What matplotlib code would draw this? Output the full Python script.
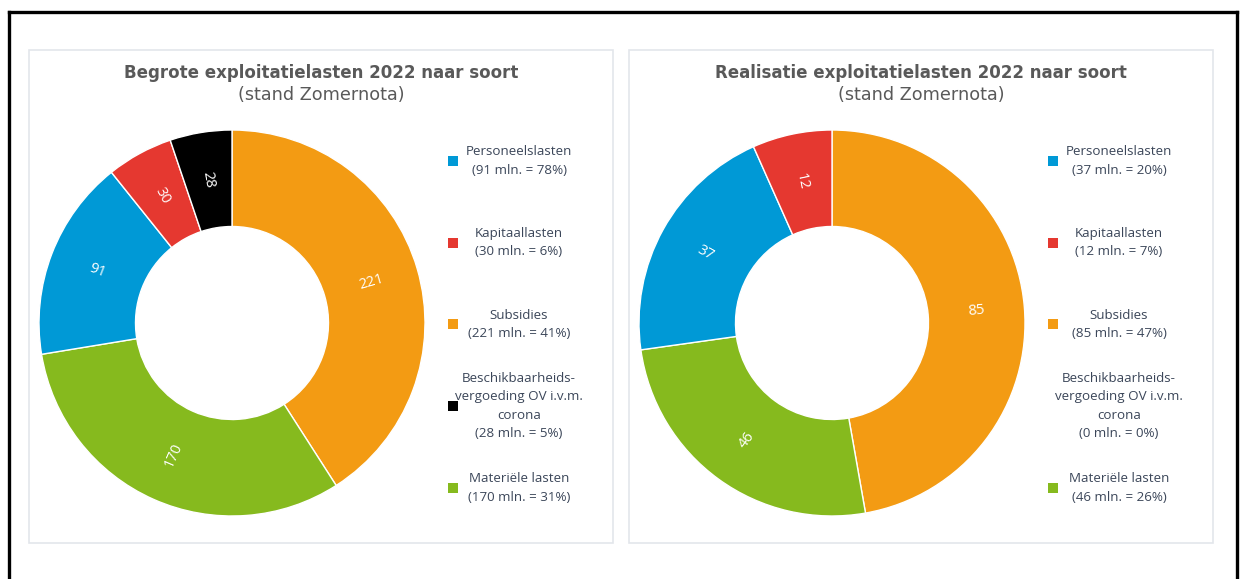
import matplotlib
matplotlib.use("Agg")
import matplotlib.pyplot as plt
from matplotlib.patches import Rectangle
import numpy as np

# ---------------- data ----------------
categories = ["Personeelslasten", "Kapitaallasten", "Subsidies",
              "Beschikbaarheids-\nvergoeding OV i.v.m.\ncorona", "Materiële lasten"]
colors = ["#0099d6", "#e53830", "#f39b13", "#000000", "#86ba1e"]

begroot_values = [91, 30, 221, 28, 170]
begroot_pct = [78, 6, 41, 5, 31]
realisatie_values = [37, 12, 85, 0, 46]
realisatie_pct = [20, 7, 47, 0, 26]

titles = ["Begrote exploitatielasten 2022 naar soort",
          "Realisatie exploitatielasten 2022 naar soort"]
subtitle = "(stand Zomernota)"

# drawing order of wedges (clockwise from top)
pie_order = [2, 4, 0, 1, 3]

W, H = 1240, 579
fig = plt.figure(figsize=(W / 100, H / 100), dpi=100)
fig.patch.set_facecolor("white")

def fx(x):
    return x / W

def fy(y):
    return 1 - y / H

# outer black frame (bottom cut off)
for xs, ys in [([8.5, 8.5], [11.5, 585]), ([8.5, 1236.5], [11.5, 11.5]), ([1236.5, 1236.5], [11.5, 585])]:
    fig.add_artist(plt.Line2D([fx(v) for v in xs], [fy(v) for v in ys], color="black",
                              lw=2.4, transform=fig.transFigure))

panels = [
    dict(x0=29, x1=613, cx=232, legx=453, textx=519,
         values=begroot_values, pct=begroot_pct, title=titles[0]),
    dict(x0=629, x1=1213, cx=832, legx=1053, textx=1119,
         values=realisatie_values, pct=realisatie_pct, title=titles[1]),
]

cy = 323
R = 193
text_color = "#3b4659"

for p in panels:
    fig.add_artist(Rectangle((fx(p["x0"]), fy(543)), fx(p["x1"] - p["x0"]), (543 - 50) / H,
                             transform=fig.transFigure, facecolor="white",
                             edgecolor="#e3e6eb", lw=1.2, zorder=0))
    tx = (p["x0"] + p["x1"]) / 2
    fig.text(fx(tx), fy(73), p["title"], ha="center", va="center",
             fontsize=12.0, fontweight="bold", color="#595959", family="DejaVu Sans")
    fig.text(fx(tx), fy(95), subtitle, ha="center", va="center",
             fontsize=12.7, color="#595959", family="DejaVu Sans")

    ax = fig.add_axes([fx(p["cx"] - R), (H - cy - R) / H, 2 * R / W, 2 * R / H])
    idx = [i for i in pie_order if p["values"][i] > 0]
    vals = [p["values"][i] for i in idx]
    cols = [colors[i] for i in idx]
    wedges, _ = ax.pie(vals, colors=cols, startangle=90, counterclock=False,
                       radius=1, wedgeprops=dict(width=0.5, edgecolor="white", linewidth=1))
    ax.set_xlim(-1, 1)
    ax.set_ylim(-1, 1)
    ax.set_aspect("equal")
    ax.axis("off")
    for w, v in zip(wedges, vals):
        mid = (w.theta1 + w.theta2) / 2
        rot = mid
        while rot > 90:
            rot -= 180
        while rot < -90:
            rot += 180
        r = 0.75
        ax.text(r * np.cos(np.radians(mid)), r * np.sin(np.radians(mid)), str(v),
                ha="center", va="center", rotation=rot, rotation_mode="anchor",
                color="white", fontsize=10.5, family="Open Sans")

    # legend
    for k in range(len(categories)):
        yc = 161 + k * 81.7
        label = f"{categories[k]}\n({p['values'][k]} mln. = {p['pct'][k]}%)"
        fig.text(fx(p["textx"]), fy(yc), label, ha="center", va="center",
                 fontsize=9.6, color=text_color, family="Open Sans", linespacing=1.55)
        if p["values"][k] > 0:
            fig.add_artist(Rectangle((fx(p["legx"] - 5), fy(yc) - 5 / H), 10 / W, 10 / H,
                                     transform=fig.transFigure, facecolor=colors[k],
                                     edgecolor="none"))

fig.savefig("out.png", dpi=100)
